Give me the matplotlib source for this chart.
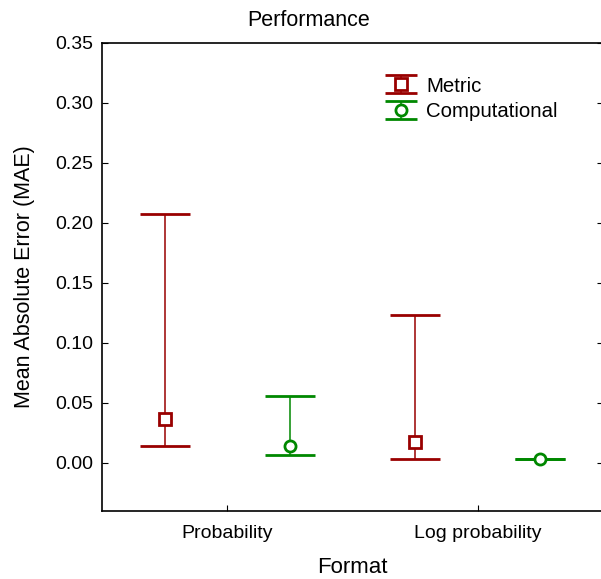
import matplotlib
matplotlib.use("Agg")
import matplotlib.pyplot as plt
import numpy as np
from matplotlib.legend_handler import HandlerErrorbar
from matplotlib.ticker import FormatStrFormatter, MultipleLocator

plt.rcParams["font.family"] = ["Liberation Sans", "DejaVu Sans"]

formats = ["Probability", "Log probability"]
series = ["Metric", "Computational"]
colors = ["#990000", "#008800"]
markers = ["s", "o"]

# mean, lower and upper bound per format
metric_mean = [0.036, 0.0175]
metric_low = [0.0142, 0.0027]
metric_high = [0.2075, 0.1234]
comp_mean = [0.0142, 0.0027]
comp_low = [0.0062, 0.0027]
comp_high = [0.0552, 0.0027]

means = [metric_mean, comp_mean]
lows = [metric_low, comp_low]
highs = [metric_high, comp_high]
offsets = [-0.25, 0.25]

fig = plt.figure(figsize=(6.01, 5.79), dpi=100)
ax = fig.add_axes([0.1697, 0.118, 0.8336, 0.8083])

style = dict(markerfacecolor="white", markersize=8, markeredgewidth=2,
             elinewidth=1.1, capthick=0.9)

x = np.arange(len(formats))
proxies = []
for i, name in enumerate(series):
    m = np.array(means[i])
    lo = np.array(lows[i])
    hi = np.array(highs[i])
    ax.errorbar(x + offsets[i], m, yerr=[m - lo, hi - m], fmt=markers[i],
                color=colors[i], markeredgecolor=colors[i], capsize=18, **style)
    # legend proxy with narrower caps
    p = ax.errorbar([np.nan], [np.nan], yerr=[[0], [0]], fmt=markers[i],
                    color=colors[i], markeredgecolor=colors[i], capsize=11.5,
                    label=name, **style)
    proxies.append(p)

ax.set_xlim(-0.5, 1.5)
ax.set_ylim(-0.04, 0.35)
ax.set_xticks(x)
ax.set_xticklabels(formats)
ax.yaxis.set_major_locator(MultipleLocator(0.05))
ax.yaxis.set_major_formatter(FormatStrFormatter("%.2f"))
ax.tick_params(direction="in", length=4, labelsize=14, right=True, pad=6)
ax.tick_params(axis="x", pad=10)
for s in ax.spines.values():
    s.set_linewidth(1.2)

fig.text(309 / 601, 1 - 20 / 579, "Performance", fontsize=15.5,
         ha="center", va="center")
ax.set_xlabel("Format", fontsize=16, labelpad=11)
ax.set_ylabel("Mean Absolute Error (MAE)", fontsize=15.5, labelpad=15)

ax.legend(
    handles=proxies, labels=series,
    loc="upper left", bbox_to_anchor=(0.547, 0.945), frameon=False,
    fontsize=14.7, handlelength=1.6, handletextpad=0.45, labelspacing=0.3,
    borderaxespad=0, handler_map={type(proxies[0]): HandlerErrorbar(yerr_size=0.44)},
)

fig.savefig("out.png", dpi=100)
